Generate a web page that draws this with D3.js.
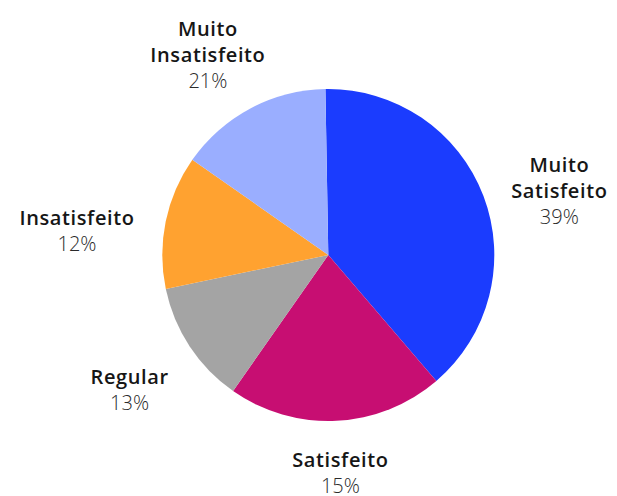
<!DOCTYPE html>
<html>
<head>
<meta charset="utf-8">
<script src="https://cdn.jsdelivr.net/npm/d3@7"></script>
<style>
  body { margin: 0; background: #fff; }
</style>
</head>
<body>
<div id="container"></div>
<script>
// slice values and the labels printed next to them
let categories = ["Muito Satisfeito", "Satisfeito", "Regular", "Insatisfeito", "Muito Insatisfeito"];
let values = [39, 21, 12, 13, 15];
let pctLabels = ["39%", "15%", "13%", "12%", "21%"];
let colors = ["#1b3cfe", "#c70e72", "#a4a4a4", "#ffa230", "#9aaeff"];

let w = 617;
let h = 496;
let cx = 328.3;
let cy = 255;
let radius = 166;

let viz = d3.select("#container")
  .append("svg")
  .attr("width", w)
  .attr("height", h)
  .style("background-color", "white");

let pie = d3.pie()
  .sort(null)
  .startAngle(-Math.PI / 180)
  .endAngle(2 * Math.PI - Math.PI / 180);

let arcs = pie(values);

let arc = d3.arc().innerRadius(0).outerRadius(radius);

let pieGroup = viz.append("g").attr("transform", "translate(" + cx + "," + cy + ")");

pieGroup.selectAll(".slice")
  .data(arcs)
  .enter()
  .append("path")
  .attr("class", "slice")
  .attr("d", arc)
  .attr("fill", function (d, i) { return colors[i]; });

// labels: a point at labelR along the mid angle, then the text block
// is pushed outward so it does not overlap the pie
let labelR = 199;
let lineH = 25.5;
let capH = 13.5;
let sideDrop = 21;

let labelGroups = pieGroup.selectAll(".label")
  .data(arcs)
  .enter()
  .append("g")
  .attr("class", "label");

labelGroups.each(function (d, i) {
  let g = d3.select(this);
  let words = categories[i].split(" ");
  words.forEach(function (word, j) {
    g.append("text")
      .attr("y", capH + j * lineH)
      .attr("text-anchor", "middle")
      .attr("font-family", "'Open Sans', sans-serif")
      .attr("font-weight", 600)
      .attr("font-size", "20px")
      .attr("letter-spacing", "0.6px")
      .attr("fill", "#161616")
      .text(word);
  });
  let lastY = capH + words.length * lineH + 0.5;
  g.append("text")
    .attr("y", lastY)
    .attr("text-anchor", "middle")
    .attr("font-family", "'Open Sans', sans-serif")
    .attr("font-weight", 300)
    .attr("font-size", "20px")
    .attr("fill", "#2a2a2a")
    .text(pctLabels[i]);

  let bw = this.getBBox().width;
  let bh = lastY;
  let a = (d.startAngle + d.endAngle) / 2;
  let px = labelR * Math.sin(a);
  let py = -labelR * Math.cos(a);
  let x = px + Math.sin(a) * bw / 2;
  let yc = py - Math.cos(a) * bh / 2 + Math.sin(a) * Math.sin(a) * sideDrop;
  g.attr("transform", "translate(" + x + "," + (yc - bh / 2) + ")");
});
</script>
</body>
</html>
